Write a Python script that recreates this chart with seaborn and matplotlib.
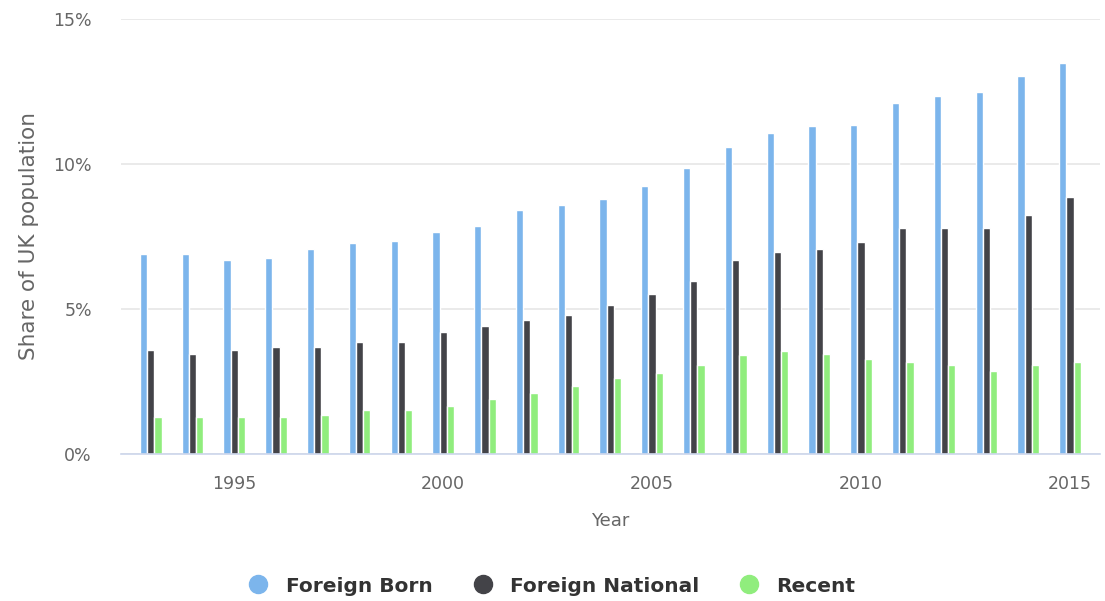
import pandas as pd
import matplotlib.pyplot as plt
import seaborn as sns
from matplotlib.lines import Line2D

# Data (share of UK population, %)
years = list(range(1993, 2016))

foreign_born = [6.91, 6.91, 6.69, 6.75, 7.08, 7.29, 7.36, 7.64, 7.85, 8.41, 8.58, 8.80,
                9.25, 9.86, 10.58, 11.08, 11.30, 11.36, 12.09, 12.36, 12.48, 13.03, 13.48]
foreign_national = [3.57, 3.46, 3.57, 3.69, 3.69, 3.85, 3.85, 4.19, 4.41, 4.63, 4.80, 5.13,
                    5.52, 5.97, 6.69, 6.97, 7.08, 7.30, 7.80, 7.80, 7.80, 8.25, 8.86]
recent = [1.29, 1.29, 1.29, 1.29, 1.35, 1.51, 1.51, 1.67, 1.90, 2.12, 2.34, 2.62,
          2.79, 3.07, 3.40, 3.56, 3.46, 3.29, 3.17, 3.07, 2.85, 3.07, 3.17]

series_names = ["Foreign Born", "Foreign National", "Recent"]
colors = ["#7cb5ec", "#434348", "#90ed7d"]
tick_years = [1995, 2000, 2005, 2010, 2015]

# Long format for seaborn
df = pd.DataFrame({
    "Year": years * 3,
    "Share": foreign_born + foreign_national + recent,
    "Series": [series_names[0]] * len(years) + [series_names[1]] * len(years) + [series_names[2]] * len(years),
})

sns.set_style("white")
plt.rcParams["font.family"] = ["DejaVu Sans"]

fig = plt.figure(figsize=(11.05, 6.01), dpi=100)
ax = fig.add_axes([0.1095, 0.2446, 0.886, 0.7238])

sns.barplot(
    data=df,
    x="Year",
    y="Share",
    hue="Series",
    hue_order=series_names,
    palette=colors,
    width=0.52,
    edgecolor="white",
    linewidth=1,
    saturation=1,
    legend=False,
    ax=ax,
)

ax.set_ylim(0, 15)
ax.set_xlim(-0.71, len(years) - 1 + 0.72)
ax.set_yticks([0, 5, 10, 15])
ax.set_yticklabels(["0%", "5%", "10%", "15%"])
ax.yaxis.grid(True, color="#e6e6e6", linewidth=1.2)
ax.set_axisbelow(True)

tick_pos = [years.index(y) for y in tick_years]
ax.set_xticks(tick_pos)
ax.set_xticklabels([str(y) for y in tick_years])

ax.tick_params(axis="y", length=0, pad=21, labelsize=12.5, labelcolor="#666666")
ax.tick_params(axis="x", length=6, width=1, color="#ccd6eb", pad=9, labelsize=12.5, labelcolor="#666666")

for side in ["top", "right", "left"]:
    ax.spines[side].set_visible(False)
ax.spines["bottom"].set_color("#ccd6eb")
ax.spines["bottom"].set_linewidth(1.2)

ax.set_xlabel("Year", fontsize=13, color="#666666", labelpad=14)
ax.set_ylabel("Share of UK population", fontsize=15.5, color="#666666", labelpad=10)

handles = [
    Line2D([0], [0], marker="o", linestyle="", markersize=13, markerfacecolor=c, markeredgecolor=c)
    for c in colors
]
fig.legend(
    handles,
    series_names,
    loc="center",
    bbox_to_anchor=(0.4995, 1 - 586 / 601),
    ncol=3,
    frameon=False,
    handlelength=1.0,
    handletextpad=0.85,
    columnspacing=2.0,
    prop={"weight": "bold", "size": 14.5},
    labelcolor="#333333",
)

plt.savefig("out.png", dpi=100)
plt.close()
